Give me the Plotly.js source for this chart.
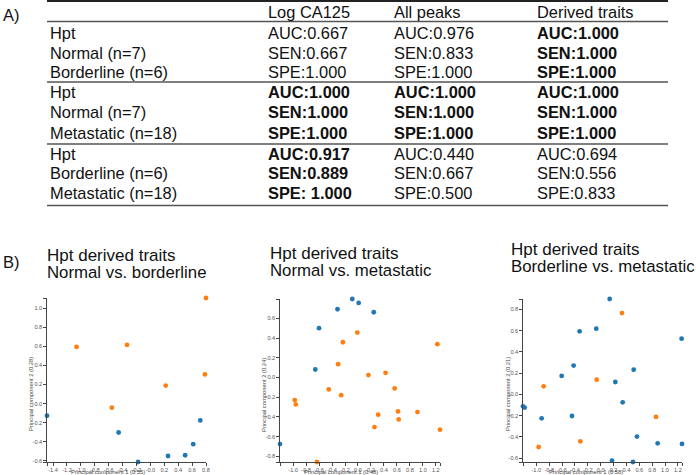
<!DOCTYPE html>
<html>
<head>
<meta charset="utf-8">
<script src="https://cdn.plot.ly/plotly-3.0.1.min.js"></script>
<style>html,body{margin:0;padding:0;background:#fff;}#chart{width:696px;height:475px;}</style>
</head>
<body>
<div id="chart"></div>
<script>
// ---------- Table (panel A) data ----------
const colHeaders = ["Log CA125", "All peaks", "Derived traits"];
const rowLabels = ["Hpt", "Normal (n=7)", "Borderline (n=6)",
                   "Hpt", "Normal (n=7)", "Metastatic (n=18)",
                   "Hpt", "Borderline (n=6)", "Metastatic (n=18)"];
const logCA125 = ["AUC:0.667", "SEN:0.667", "SPE:1.000",
                  "AUC:1.000", "SEN:1.000", "SPE:1.000",
                  "AUC:0.917", "SEN:0.889", "SPE: 1.000"];
const allPeaks = ["AUC:0.976", "SEN:0.833", "SPE:1.000",
                  "AUC:1.000", "SEN:1.000", "SPE:1.000",
                  "AUC:0.440", "SEN:0.667", "SPE:0.500"];
const derivedTraits = ["AUC:1.000", "SEN:1.000", "SPE:1.000",
                       "AUC:1.000", "SEN:1.000", "SPE:1.000",
                       "AUC:0.694", "SEN:0.556", "SPE:0.833"];
const boldLogCA125 = [0,0,0,1,1,1,1,1,1];
const boldAllPeaks = [0,0,0,1,1,1,0,0,0];
const boldDerived  = [1,1,1,1,1,1,0,0,0];

// ---------- PCA scatter (panel B) data ----------
const panelTitles = [["Hpt derived traits", "Normal vs. borderline"],
                     ["Hpt derived traits", "Normal vs. metastatic"],
                     ["Hpt derived traits", "Borderline vs. metastatic"]];
const pc1Titles = ["Principal component 1 (0.55)", "Principal component 1 (0.48)", "Principal component 1 (0.58)"];
const pc2Titles = ["Principal component 2 (0.28)", "Principal component 2 (0.24)", "Principal component 2 (0.21)"];

// Plot 1: Normal (blue) vs Borderline (orange)
const p1BlueX = [-1.487, -0.457, -0.177, 0.254, 0.500, 0.616, 0.718];
const p1BlueY = [-0.128, -0.304, -0.614, -0.551, -0.543, -0.427, -0.177];
const p1OrangeX = [0.800, -1.062, -0.336, 0.220, 0.785, -0.554];
const p1OrangeY = [1.109, 0.595, 0.616, 0.189, 0.306, -0.043];

// Plot 2: Normal (blue) vs Metastatic (orange)
const p2BlueX = [-0.088, 0.010, -0.316, 0.243, -0.601, -0.658, -1.202];
const p2BlueY = [0.795, 0.755, 0.691, 0.661, 0.499, 0.081, -0.674];
const p2OrangeX = [-0.010, -0.233, 1.223, -0.306, 0.161, 0.425, 0.565, -0.451, -0.259,
                   -0.974, -0.959, 0.311, 0.617, 0.627, 0.917, 0.254, 1.264, -0.632];
const p2OrangeY = [0.455, 0.357, 0.337, 0.135, 0.024, 0.047, -0.111, -0.121, -0.179,
                   -0.229, -0.273, -0.377, -0.344, -0.425, -0.350, -0.502, -0.529, -0.856];

// Plot 3: Metastatic (blue) vs Borderline (orange)
const p3BlueX = [0.140, -0.068, -0.327, 1.258, -0.420, -0.606, 0.513, 0.228, 0.342,
                 -1.207, -1.181, -0.917, -0.446, 0.564, 0.886, 1.264, 0.176, 0.502];
const p3BlueY = [0.897, 0.618, 0.593, 0.524, 0.270, 0.173, 0.232, 0.116, -0.075,
                 -0.113, -0.125, -0.226, -0.204, -0.398, -0.461, -0.467, -0.624, -0.637];
const p3OrangeX = [0.331, -0.886, -0.062, 0.860, -0.316, -0.964];
const p3OrangeY = [0.765, 0.075, 0.138, -0.213, -0.442, -0.496];

// Tick values / labels
const p1XTicks = [-1.4, -1.2, -1.0, -0.8, -0.6, -0.4, -0.2, 0.0, 0.2, 0.4, 0.6, 0.8];
const p1XLabels = ["-1.4","-1.2","-1.0","-0.8","-0.6","-0.4","-0.2","-0.0","0.2","0.4","0.6","0.8"];
const p1YTicks = [-0.6, -0.4, -0.2, 0.0, 0.2, 0.4, 0.6, 0.8, 1.0];
const p1YLabels = ["-0.6","-0.4","-0.2","-0.0","0.2","0.4","0.6","0.8","1.0"];
const p2XTicks = [-1.0, -0.8, -0.6, -0.4, -0.2, 0.0, 0.2, 0.4, 0.6, 0.8, 1.0, 1.2];
const p2XLabels = ["-1.0","-0.8","-0.6","-0.4","-0.2","0.0","0.2","0.4","0.6","0.8","1.0","1.2"];
const p2YTicks = [-0.8, -0.6, -0.4, -0.2, 0.0, 0.2, 0.4, 0.6];
const p2YLabels = ["-0.8","-0.6","-0.4","-0.2","0.0","0.2","0.4","0.6"];
const p3XTicks = [-1.0, -0.8, -0.6, -0.4, -0.2, 0.0, 0.2, 0.4, 0.6, 0.8, 1.0, 1.2];
const p3XLabels = ["-1.0","-0.8","-0.6","-0.4","-0.2","0.0","0.2","0.4","0.6","0.8","1.0","1.2"];
const p3YTicks = [-0.6, -0.4, -0.2, 0.0, 0.2, 0.4, 0.6, 0.8];
const p3YLabels = ["-0.6","-0.4","-0.2","-0.0","0.2","0.4","0.6","0.8"];

const BLUE = "#1f77b4", ORANGE = "#ff7f0e";
const W = 696, H = 475;
const FONT = "Arial, 'Liberation Sans', sans-serif";
const px = v => v / W;
const py = v => 1 - v / H;

// ---------- Layout helpers ----------
const annotations = [];
function addText(text, x, y, size, opts) {
  annotations.push(Object.assign({
    text: text, xref: "paper", yref: "paper", x: px(x), y: py(y),
    xanchor: "left", yanchor: "middle", showarrow: false,
    font: {family: FONT, size: size, color: "#111"}
  }, opts || {}));
}

// Panel labels
addText("A)", 1, 15, 16.5);
addText("B)", 1, 262, 16.5);

// Table
const tableCols = [266, 392, 535];
const headerY = 12;
const rowY = [33, 53, 72, 92, 112, 133, 154, 173, 193];
colHeaders.forEach((h, i) => addText(h, tableCols[i], headerY, 16.4));
const cols = [logCA125, allPeaks, derivedTraits];
const bolds = [boldLogCA125, boldAllPeaks, boldDerived];
rowLabels.forEach((lab, r) => {
  addText(lab, 48, rowY[r], 16.4);
  cols.forEach((col, c) => {
    const t = bolds[c][r] ? "<b>" + col[r] + "</b>" : col[r];
    addText(t, tableCols[c], rowY[r], 16.4);
  });
});

const shapes = [];
function hline(y, w, color) {
  shapes.push({type: "line", xref: "paper", yref: "paper",
    x0: px(47), x1: px(668), y0: py(y), y1: py(y),
    line: {color: color, width: w}});
}
hline(1, 2, "#222");
hline(21.5, 1.3, "#555");
hline(82, 1.3, "#555");
hline(144, 1.3, "#555");
hline(205.5, 1.3, "#555");

// Scatter panel titles
const titlePos = [[45, 255, 272.5], [268, 253, 270.5], [509, 249, 266.5]];
panelTitles.forEach((t, i) => {
  addText(t[0], titlePos[i][0], titlePos[i][1], 17);
  addText(t[1], titlePos[i][0], titlePos[i][2], 16.8);
});

// Axis titles (placed as small annotations)
const xTitlePos = [[108, 472], [341, 472], [586, 472]];
const yTitlePos = [[31, 394], [264, 395], [508, 394]];
pc1Titles.forEach((t, i) => addText(t, xTitlePos[i][0], xTitlePos[i][1], 5.8,
  {xanchor: "center", font: {family: FONT, size: 5.8, color: "#444"}}));
pc2Titles.forEach((t, i) => addText(t, yTitlePos[i][0], yTitlePos[i][1], 5.8,
  {xanchor: "center", textangle: -90, font: {family: FONT, size: 5.8, color: "#444"}}));

// ---------- Traces ----------
const mk = (x, y, color, xa, ya) => ({
  type: "scatter", mode: "markers", x: x, y: y, xaxis: xa, yaxis: ya,
  cliponaxis: false, hoverinfo: "skip",
  marker: {color: color, size: 4.8, line: {width: 0}}
});
const traces = [
  mk(p1BlueX, p1BlueY, BLUE, "x", "y"),
  mk(p1OrangeX, p1OrangeY, ORANGE, "x", "y"),
  mk(p2BlueX, p2BlueY, BLUE, "x2", "y2"),
  mk(p2OrangeX, p2OrangeY, ORANGE, "x2", "y2"),
  mk(p3BlueX, p3BlueY, BLUE, "x3", "y3"),
  mk(p3OrangeX, p3OrangeY, ORANGE, "x3", "y3")
];

function ext(arrs) {
  const all = [].concat(...arrs);
  return [Math.min(...all), Math.max(...all)];
}
function axis(domainPx, isX, rng, ticks, labels, anchor) {
  const dom = isX ? [px(domainPx[0]), px(domainPx[1])] : [py(domainPx[1]), py(domainPx[0])];
  return {
    domain: dom, range: rng, anchor: anchor, autorange: false,
    tickmode: "array",
    tickvals: [rng[0]].concat(ticks).concat([rng[1]]),
    ticktext: [""].concat(labels).concat([""]),
    ticks: "outside", ticklen: 2.5, tickwidth: 1, tickcolor: "#444",
    tickangle: 0,
    tickfont: {family: FONT, size: 5.6, color: "#555"},
    showline: true, linecolor: "#444", linewidth: 1.2,
    showgrid: false, zeroline: false, mirror: false, fixedrange: true,
    automargin: false
  };
}

const plots = [
  {xd: [47, 206], yd: [298, 462], bx: [p1BlueX, p1OrangeX], by: [p1BlueY, p1OrangeY],
   xt: p1XTicks, xl: p1XLabels, yt: p1YTicks, yl: p1YLabels},
  {xd: [280, 440], yd: [299, 462], bx: [p2BlueX, p2OrangeX], by: [p2BlueY, p2OrangeY],
   xt: p2XTicks, xl: p2XLabels, yt: p2YTicks, yl: p2YLabels},
  {xd: [523, 682], yd: [299, 462], bx: [p3BlueX, p3OrangeX], by: [p3BlueY, p3OrangeY],
   xt: p3XTicks, xl: p3XLabels, yt: p3YTicks, yl: p3YLabels}
];

const layout = {
  width: W, height: H,
  margin: {l: 0, r: 0, t: 0, b: 0, pad: 0},
  paper_bgcolor: "#fff", plot_bgcolor: "#fff",
  showlegend: false,
  annotations: annotations,
  shapes: shapes,
  font: {family: FONT}
};
plots.forEach((p, i) => {
  const s = i === 0 ? "" : String(i + 1);
  layout["xaxis" + s] = axis(p.xd, true, ext(p.bx), p.xt, p.xl, "y" + s);
  layout["yaxis" + s] = axis(p.yd, false, ext(p.by), p.yt, p.yl, "x" + s);
});

Plotly.newPlot("chart", traces, layout, {staticPlot: true, displayModeBar: false});
</script>
</body>
</html>
